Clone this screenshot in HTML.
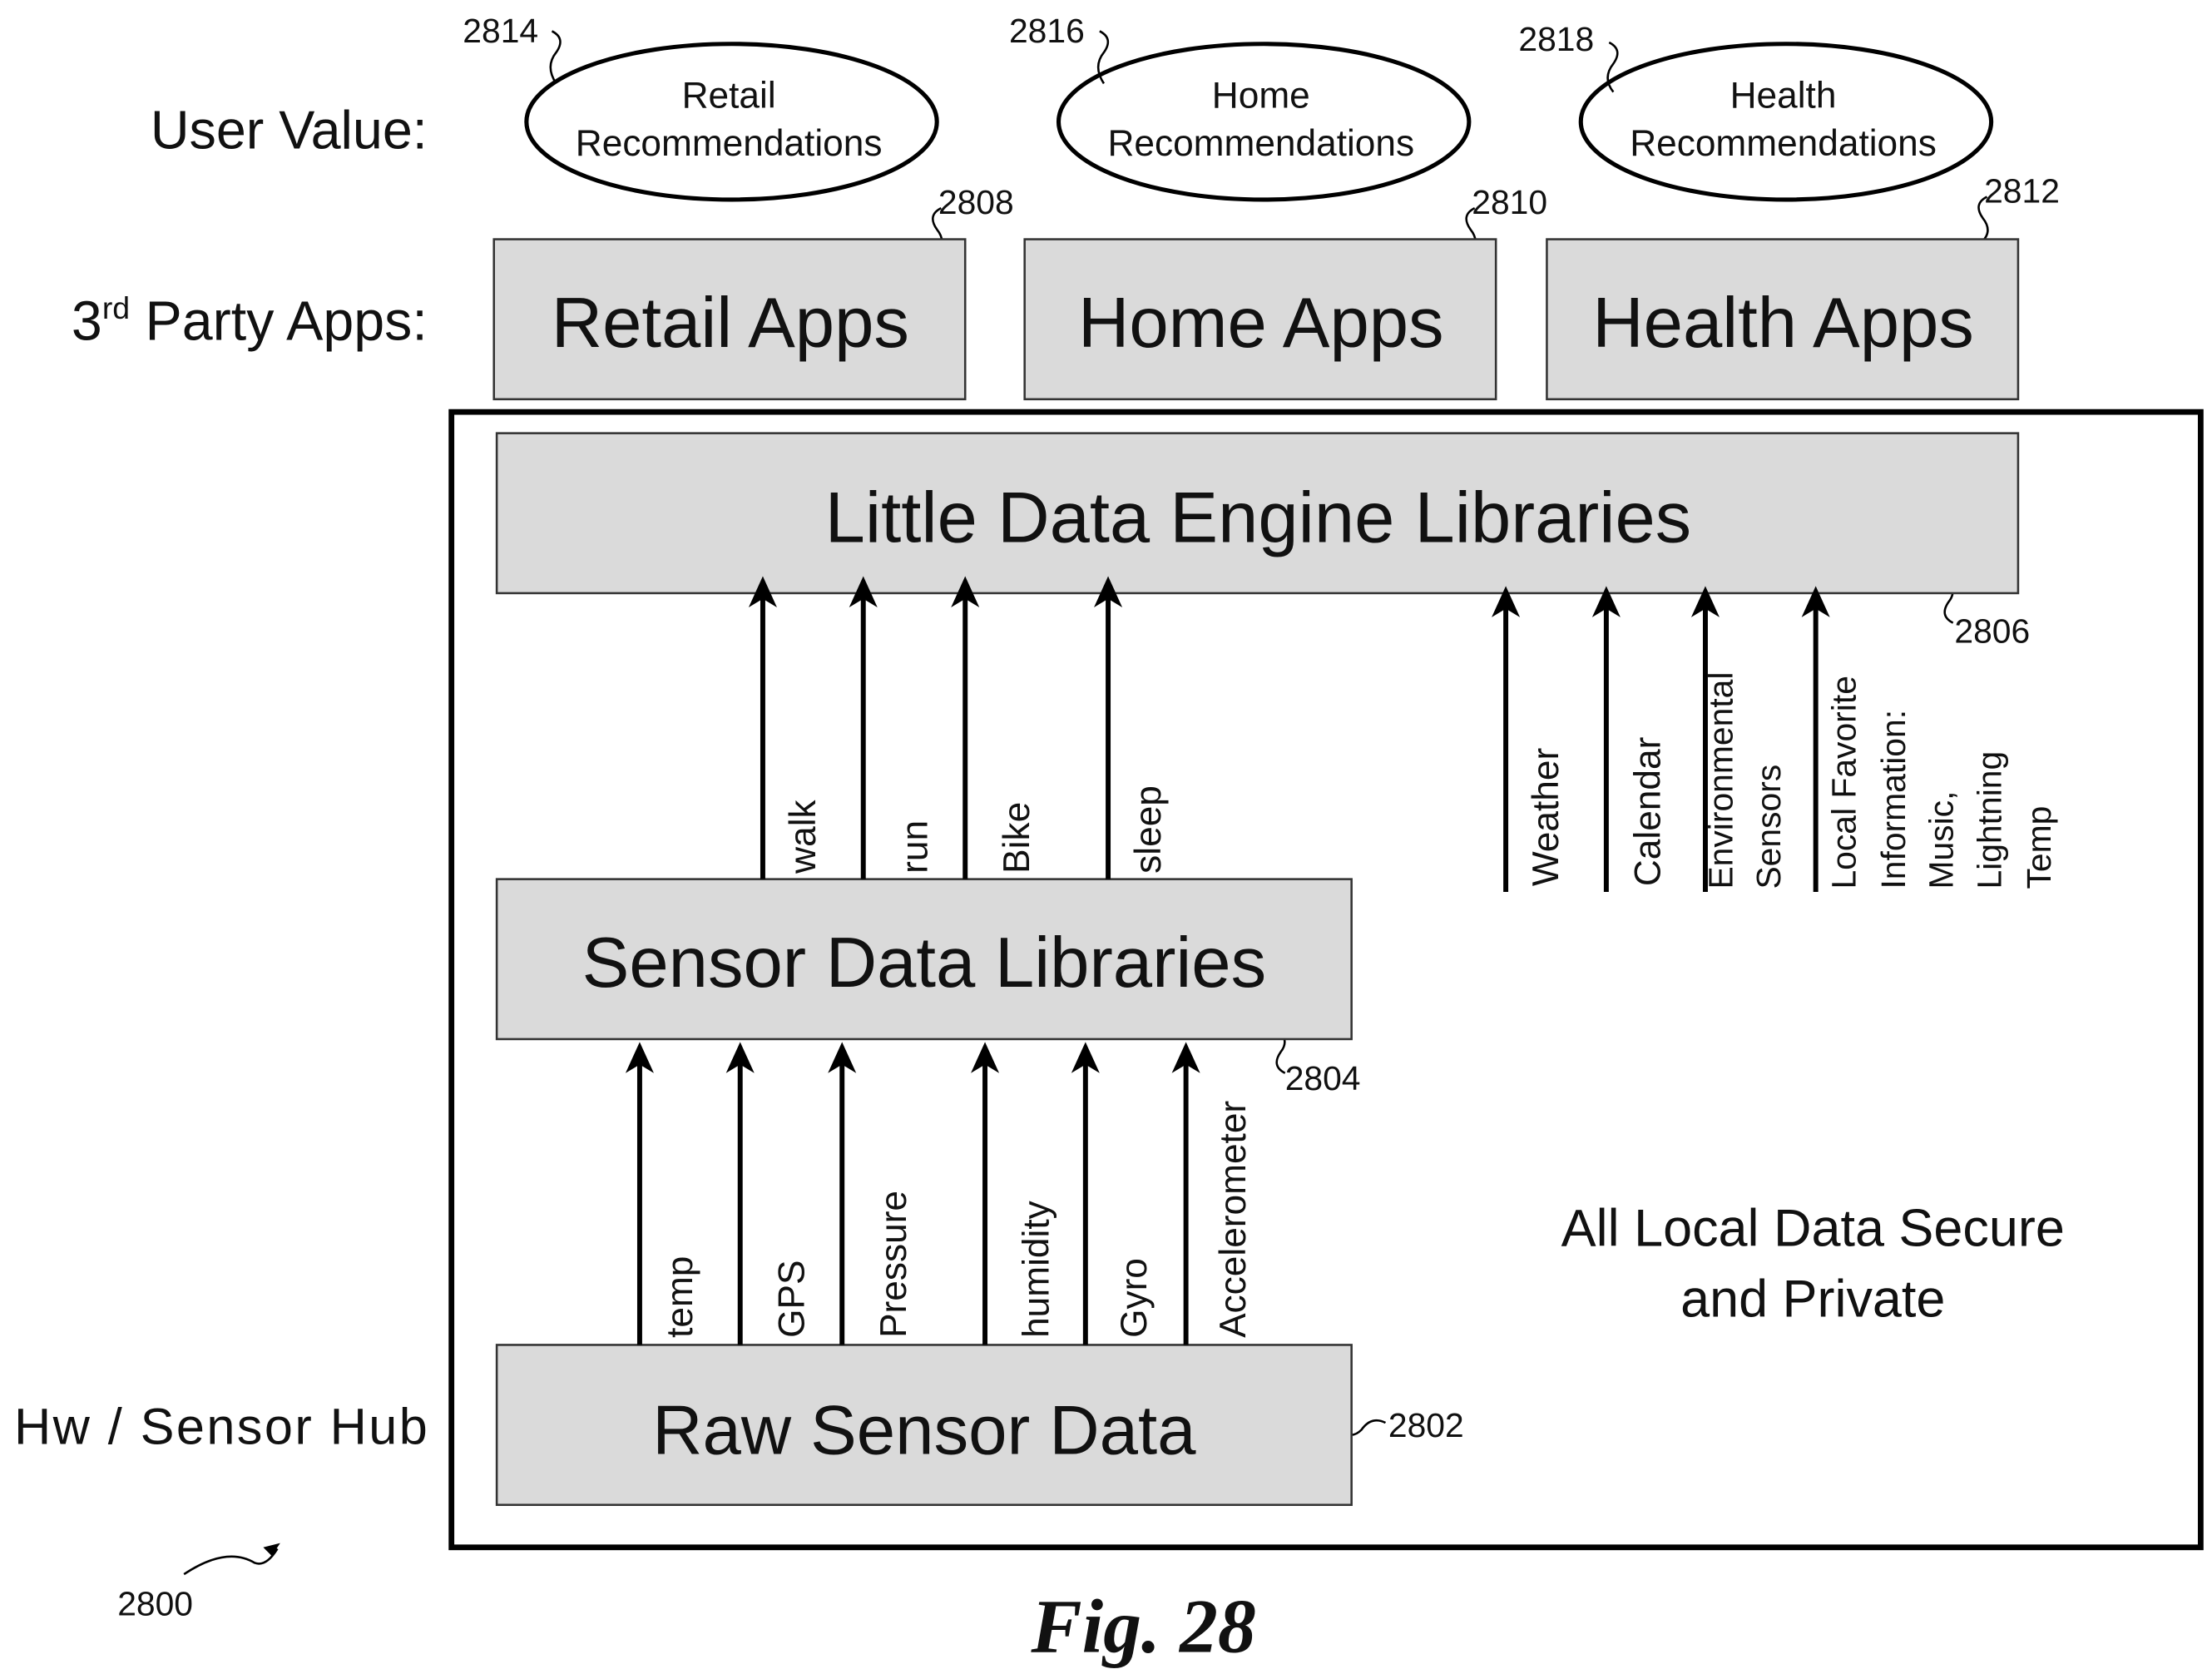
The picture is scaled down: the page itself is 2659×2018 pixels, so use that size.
<!DOCTYPE html>
<html><head><meta charset="utf-8"><style>
html,body{margin:0;padding:0;background:#fff;}
svg{display:block;}
text{font-family:"Liberation Sans",sans-serif;fill:#111;}
</style></head><body>
<svg width="2659" height="2018" viewBox="0 0 1563 1186" preserveAspectRatio="none" xmlns="http://www.w3.org/2000/svg">
<g fill="none" stroke="#000" stroke-width="3">
<ellipse cx="517" cy="86" rx="145" ry="55"/>
<ellipse cx="893" cy="86" rx="145" ry="55"/>
<ellipse cx="1262" cy="86" rx="145" ry="55"/>
</g>
<g font-size="26" text-anchor="middle">
<text x="515" y="76">Retail</text><text x="515" y="110">Recommendations</text>
<text x="891" y="76">Home</text><text x="891" y="110">Recommendations</text>
<text x="1260" y="76">Health</text><text x="1260" y="110">Recommendations</text>
</g>
<g font-size="24">
<text x="327" y="30">2814</text><text x="713" y="30">2816</text><text x="1073" y="36">2818</text>
<text x="663" y="151">2808</text><text x="1040" y="151">2810</text><text x="1402" y="143">2812</text>
<text x="1381" y="454">2806</text><text x="908" y="770">2804</text><text x="981" y="1015">2802</text>
<text x="83" y="1141">2800</text>
</g>
<g fill="none" stroke="#000" stroke-width="1.5">
<path d="M390 22 q10 5 3 15 q-8 10 0 22"/>
<path d="M777 22 q10 5 3 15 q-8 10 0 22"/>
<path d="M1137 30 q10 5 3 15 q-8 10 0 20"/>
<path d="M665 147 q-10 5 -3 15 q8 10 -2 18"/>
<path d="M1042 147 q-10 5 -3 15 q8 10 -2 18"/>
<path d="M1404 139 q-10 5 -3 15 q8 10 -2 18"/>
<path d="M1380 440 q-10 -5 -3 -15 q8 -10 -7 -20"/>
<path d="M908 758 q-10 -5 -3 -15 q8 -10 -7 -20"/>
<path d="M979 1005 q-10 -5 -17 5 q-5 5 -10 3"/>
<path d="M130 1112 q30 -20 50 -8 q8 3 16 -10"/>
</g>
<path d="M198 1090 l-12 3 l6 6 z" fill="#000"/>
<g text-anchor="end">
<text x="302" y="105" font-size="38">User Value:</text>
<text x="302" y="240" font-size="39">3<tspan font-size="22" dy="-15">rd</tspan><tspan dy="15"> Party Apps:</tspan></text>
</g>
<text x="10" y="1020" font-size="36" textLength="292" lengthAdjust="spacing">Hw / Sensor Hub</text>
<g fill="#dadada" stroke="#333" stroke-width="1.5">
<rect x="349" y="169" width="333" height="113"/>
<rect x="724" y="169" width="333" height="113"/>
<rect x="1093" y="169" width="333" height="113"/>
</g>
<rect x="319" y="291" width="1236" height="802" fill="none" stroke="#000" stroke-width="4"/>
<g fill="#dadada" stroke="#333" stroke-width="1.5">
<rect x="351" y="306" width="1075" height="113"/>
<rect x="351" y="621" width="604" height="113"/>
<rect x="351" y="950" width="604" height="113"/>
</g>
<g font-size="50" text-anchor="middle">
<text x="516" y="245">Retail Apps</text>
<text x="891" y="245">Home Apps</text>
<text x="1260" y="245">Health Apps</text>
</g>
<g text-anchor="middle">
<text x="889" y="383" font-size="51">Little Data Engine Libraries</text>
<text x="653" y="697" font-size="50">Sensor Data Libraries</text>
<text x="653" y="1027" font-size="49">Raw Sensor Data</text>
</g>
<g stroke="#000" stroke-width="3.5" fill="none">
<path d="M539 621V412M610 621V412M682 621V412M783 621V412"/>
<path d="M1064 630V420M1135 630V420M1205 630V420M1283 630V420"/>
<path d="M452 950V742M523 950V742M595 950V742M696 950V742M767 950V742M838 950V742"/>
</g>
<g fill="#000">
<path d="M539 407l-10 22l10-6l10 6z"/><path d="M610 407l-10 22l10-6l10 6z"/><path d="M682 407l-10 22l10-6l10 6z"/><path d="M783 407l-10 22l10-6l10 6z"/>
<path d="M1064 414l-10 22l10-6l10 6z"/><path d="M1135 414l-10 22l10-6l10 6z"/><path d="M1205 414l-10 22l10-6l10 6z"/><path d="M1283 414l-10 22l10-6l10 6z"/>
<path d="M452 736l-10 22l10-6l10 6z"/><path d="M523 736l-10 22l10-6l10 6z"/><path d="M595 736l-10 22l10-6l10 6z"/><path d="M696 736l-10 22l10-6l10 6z"/><path d="M767 736l-10 22l10-6l10 6z"/><path d="M838 736l-10 22l10-6l10 6z"/>
</g>
<g font-size="26">
<text transform="translate(576,617) rotate(-90)">walk</text>
<text transform="translate(655,617) rotate(-90)">run</text>
<text transform="translate(727,617) rotate(-90)">Bike</text>
<text transform="translate(820,617) rotate(-90)">sleep</text>
<text transform="translate(1101,626) rotate(-90)">Weather</text>
<text transform="translate(1173,626) rotate(-90)">Calendar</text>
<text transform="translate(489,945) rotate(-90)">temp</text>
<text transform="translate(568,945) rotate(-90)">GPS</text>
<text transform="translate(640,945) rotate(-90)">Pressure</text>
<text transform="translate(741,945) rotate(-90)">humidity</text>
<text transform="translate(810,945) rotate(-90)">Gyro</text>
<text transform="translate(880,945) rotate(-90)">Accelerometer</text>
</g>
<g font-size="24">
<text transform="translate(1224,628) rotate(-90)">Environmental</text>
<text transform="translate(1258,628) rotate(-90)">Sensors</text>
<text transform="translate(1311,628) rotate(-90)">Local Favorite</text>
<text transform="translate(1346,628) rotate(-90)">Information:</text>
<text transform="translate(1380,628) rotate(-90)">Music,</text>
<text transform="translate(1414,628) rotate(-90)">Lightning</text>
<text transform="translate(1449,628) rotate(-90)">Temp</text>
</g>
<g font-size="37" text-anchor="middle">
<text x="1281" y="880">All Local Data Secure</text>
<text x="1281" y="930">and Private</text>
</g>
<text x="808" y="1167" font-size="54" font-weight="bold" font-style="italic" text-anchor="middle" style="font-family:'Liberation Serif',serif">Fig. 28</text>
</svg>
</body></html>
